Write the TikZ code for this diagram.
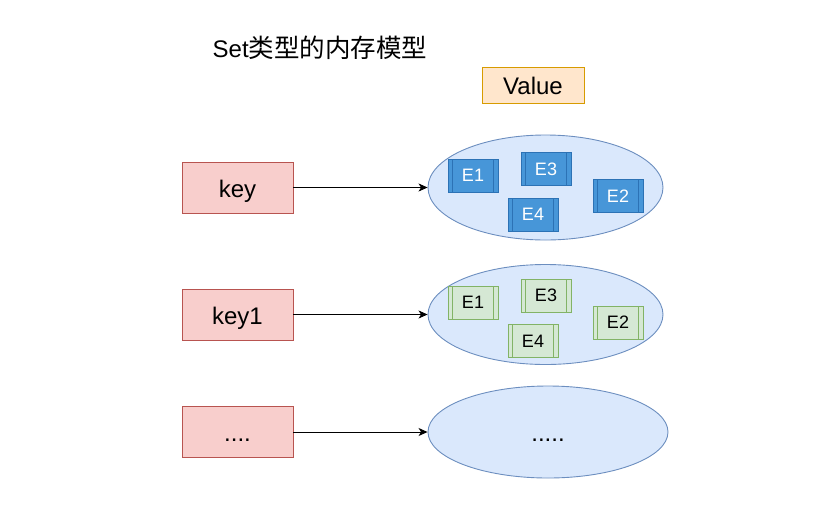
\documentclass[tikz,border=0pt]{standalone}
\usepackage{fontspec}
\setmainfont{Liberation Sans}
\newfontfamily\cjk{Noto Sans CJK SC}
\usetikzlibrary{arrows.meta,shapes.geometric}
\definecolor{keyfill}{HTML}{F8CECC}
\definecolor{keydraw}{HTML}{B85450}
\definecolor{ellfill}{HTML}{DAE8FC}
\definecolor{elldraw}{HTML}{6C8EBF}
\definecolor{valfill}{HTML}{FFE6CC}
\definecolor{valdraw}{HTML}{D79B00}
\definecolor{grnfill}{HTML}{D5E8D4}
\definecolor{grndraw}{HTML}{82B366}
\definecolor{blufill}{HTML}{4796D8}
\definecolor{bludraw}{HTML}{2C72B5}
\tikzset{
  keybox/.style={draw=keydraw, fill=keyfill, line width=0.9pt, minimum width=111pt, minimum height=51pt, inner sep=0pt, text height=19pt, text depth=0pt, font=\fontsize{24}{28}\selectfont},
  valbox/.style={draw=valdraw, fill=valfill, line width=0.9pt, minimum width=102pt, minimum height=36pt, inner sep=0pt, text height=18pt, text depth=0pt, font=\fontsize{24}{28}\selectfont},
  setell/.style={ellipse, draw=elldraw, fill=ellfill, line width=0.9pt, inner sep=0pt, text height=18pt, text depth=0pt, font=\fontsize{24}{28}\selectfont},
  elem/.style={line width=0.9pt, minimum width=50pt, minimum height=33pt, inner sep=0pt, text height=12pt, text depth=0pt, font=\fontsize{18}{22}\selectfont,
    path picture={
      \draw[line width=0.9pt, #1] ([xshift=4.5pt]path picture bounding box.north west) -- ([xshift=4.5pt]path picture bounding box.south west);
      \draw[line width=0.9pt, #1] ([xshift=-4.5pt]path picture bounding box.north east) -- ([xshift=-4.5pt]path picture bounding box.south east);
    }},
  elblue/.style={elem=bludraw, draw=bludraw, fill=blufill, text=white},
  elgreen/.style={elem=grndraw, draw=grndraw, fill=grnfill, text=black},
  conn/.style={-{Stealth[length=9pt,width=8pt,inset=2.5pt]}, line width=0.9pt, black}
}
\begin{document}
\begin{tikzpicture}[x=1pt,y=-1pt]
\useasboundingbox (0,0) rectangle (828,507);
\node[anchor=center] (title) at (320,48) {{\fontsize{24}{28}\selectfont Set}{\cjk\fontsize{25.5}{28}\selectfont 类型的内存模型}};
\node[valbox] (value) at (533,85) {Value};

\node[keybox] (k0) at (237.5,187.5) {key};
\node[keybox] (k1) at (237.5,314.5) {key1};
\node[keybox] (k2) at (237.5,432) {....};

\node[setell, minimum width=235pt, minimum height=105pt] (s0) at (545.5,187.5) {};
\node[setell, minimum width=235pt, minimum height=100pt] (s1) at (545.5,314.5) {};
\node[setell, minimum width=240pt, minimum height=92pt] (s2) at (548,432) {.....};

\node[elblue] (a1) at (473,175.5) {E1};
\node[elblue] (a3) at (546,169) {E3};
\node[elblue] (a2) at (618,196) {E2};
\node[elblue] (a4) at (533,214.5) {E4};

\node[elgreen] (b1) at (473,302.5) {E1};
\node[elgreen] (b3) at (546,295.5) {E3};
\node[elgreen] (b2) at (618,322.5) {E2};
\node[elgreen] (b4) at (533,341) {E4};

\draw[conn] (k0.east) -- (s0.west);
\draw[conn] (k1.east) -- (s1.west);
\draw[conn] (k2.east) -- (s2.west);
\end{tikzpicture}
\end{document}
